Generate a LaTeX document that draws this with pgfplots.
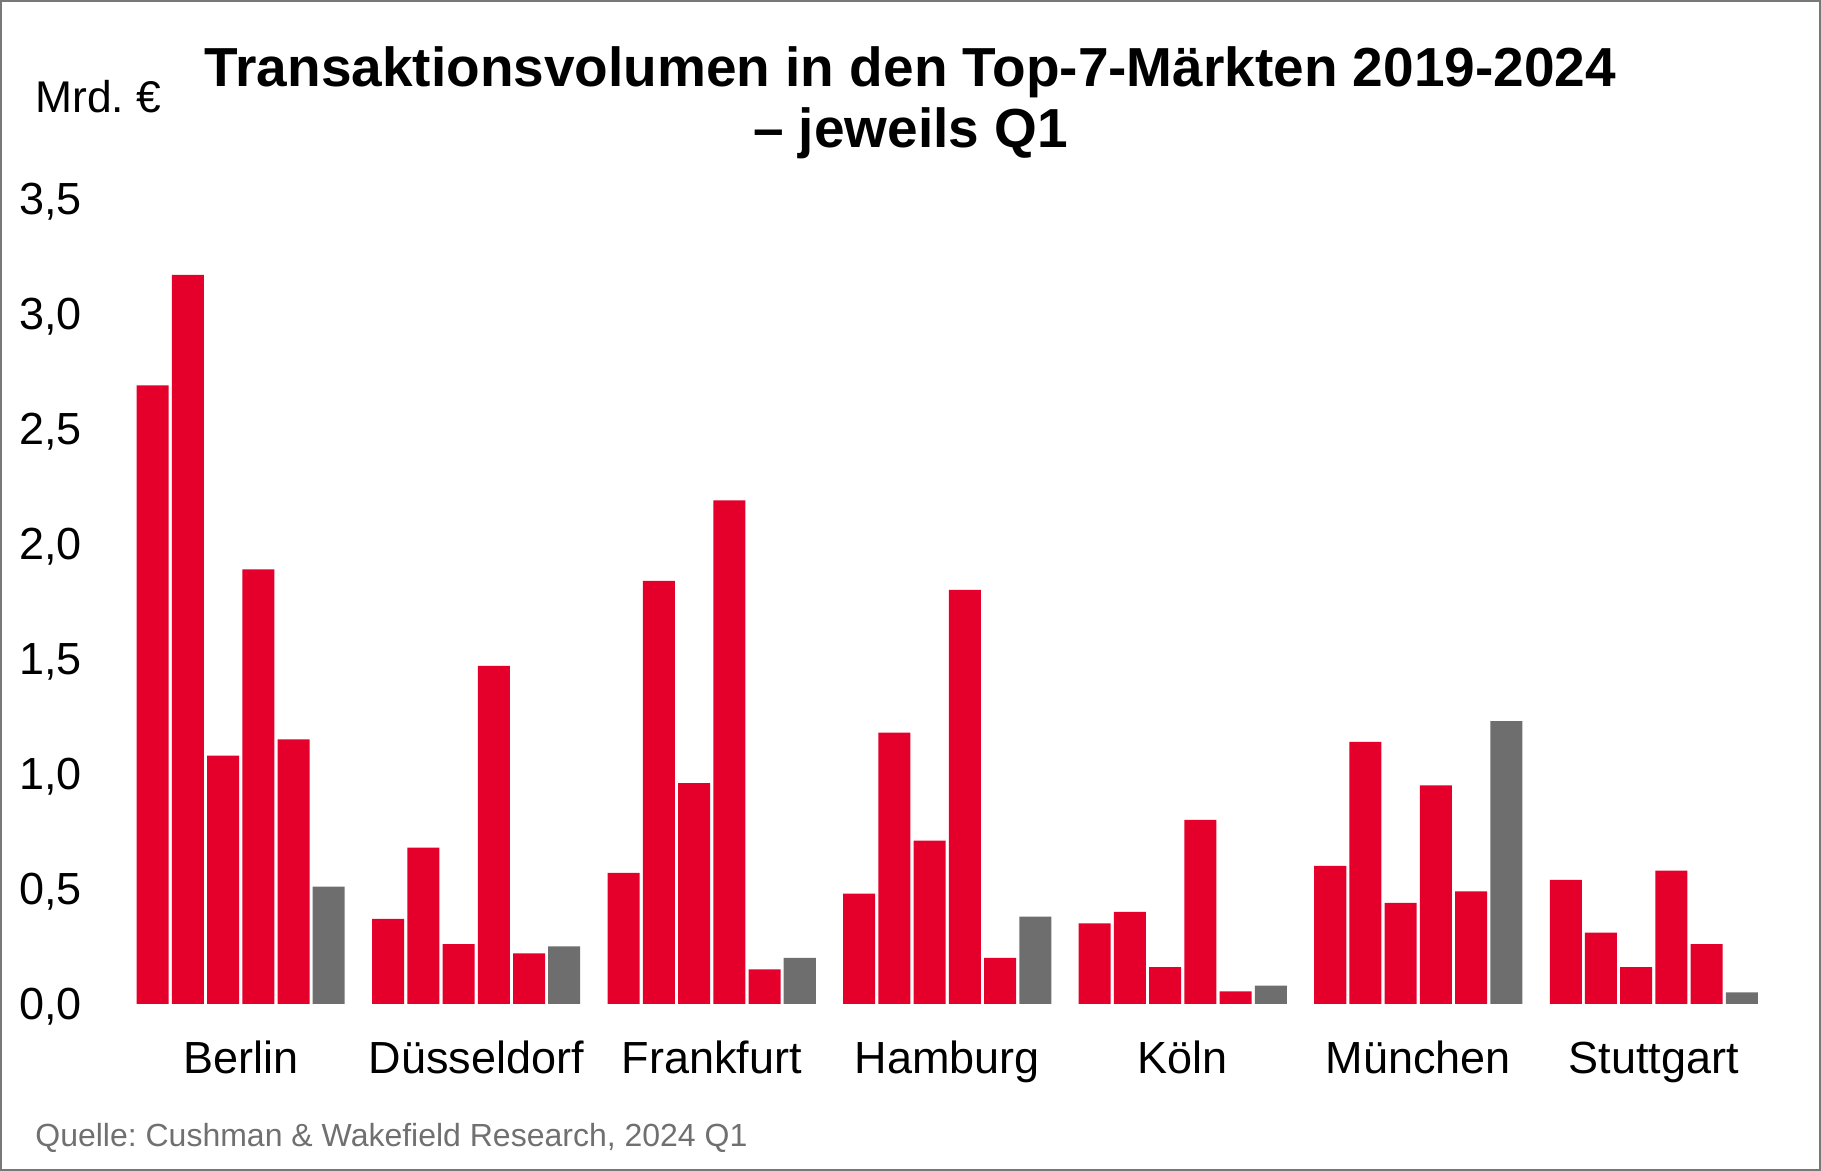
\documentclass[border=0pt]{standalone}
\usepackage{fontspec}
\setmainfont{Liberation Sans}
\usepackage{pgfplots}
\pgfplotsset{compat=1.18}
\usepackage{pgfplotstable}
\frenchspacing

\definecolor{cwred}{RGB}{228,0,43}
\definecolor{cwgray}{RGB}{109,110,109}
\definecolor{framegray}{RGB}{120,120,120}
\definecolor{srcgray}{RGB}{112,112,112}

% Transaktionsvolumen in Mrd. Euro, jeweils Q1
\pgfplotstableread{
x y2019 y2020 y2021 y2022 y2023 y2024
0 2.69 3.17 1.08 1.89 1.15 0.51
1 0.37 0.68 0.26 1.47 0.22 0.25
2 0.57 1.84 0.96 2.19 0.15 0.20
3 0.48 1.18 0.71 1.80 0.20 0.38
4 0.35 0.40 0.16 0.80 0.055 0.08
5 0.60 1.14 0.44 0.95 0.49 1.23
6 0.54 0.31 0.16 0.58 0.26 0.05
}\volumes

\begin{document}
\begin{tikzpicture}
\useasboundingbox (-61.5pt,-83.5pt) rectangle (849pt,502pt);
\begin{axis}[
  at={(0,0)}, anchor=south west,
  scale only axis,
  width=824.25pt, height=402.5pt,
  xmin=-0.5, xmax=6.5,
  ymin=0, ymax=3.5,
  ybar=1.6pt, bar width=16pt,
  axis line style={draw=none},
  major tick length=0pt,
  xtick=data,
  xticklabels={Berlin,Düsseldorf,Frankfurt,Hamburg,Köln,München,Stuttgart},
  ytick={0,0.5,1,1.5,2,2.5,3,3.5},
  yticklabel style={
    /pgf/number format/.cd, use comma, fixed, fixed zerofill, precision=1,
    assume math mode=true,
    /tikz/.cd, anchor=base east, inner sep=0pt, xshift=-20.5pt, yshift=-7.9pt,
  },
  xticklabel style={anchor=base, inner sep=0pt, yshift=-35pt},
  ticklabel style={font=\fontsize{22.5pt}{27pt}\selectfont},
  clip=false,
]
\addplot[fill=cwred, draw=none] table[x=x, y=y2019] {\volumes};
\addplot[fill=cwred, draw=none] table[x=x, y=y2020] {\volumes};
\addplot[fill=cwred, draw=none] table[x=x, y=y2021] {\volumes};
\addplot[fill=cwred, draw=none] table[x=x, y=y2022] {\volumes};
\addplot[fill=cwred, draw=none] table[x=x, y=y2023] {\volumes};
\addplot[fill=cwgray, draw=none] table[x=x, y=y2024] {\volumes};
\end{axis}

\node[anchor=base, font=\bfseries\fontsize{27.5pt}{33pt}\selectfont]
  at (393.75pt,458.5pt) {Transaktionsvolumen in den Top-7-Märkten 2019-2024};
\node[anchor=base, font=\bfseries\fontsize{27.5pt}{33pt}\selectfont]
  at (393.75pt,428pt) {– jeweils Q1};
\node[anchor=base west, inner sep=0pt, font=\fontsize{22.2pt}{27pt}\selectfont]
  at (-44pt,445.5pt) {Mrd. €};
\node[anchor=base west, inner sep=0pt, text=srcgray, font=\fontsize{16pt}{19pt}\selectfont]
  at (-44pt,-71.5pt) {Quelle: Cushman \& Wakefield Research, 2024 Q1};
\draw[framegray, line width=1pt] (-61pt,-83pt) rectangle (848.5pt,501.5pt);
\end{tikzpicture}
\end{document}
